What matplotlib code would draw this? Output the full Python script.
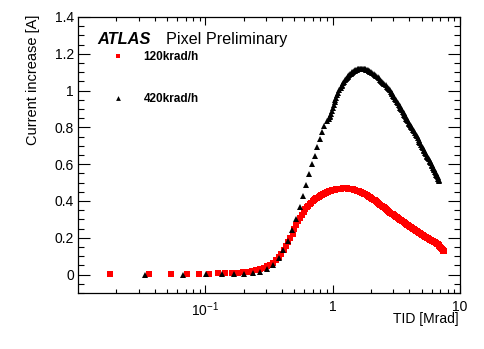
import matplotlib
matplotlib.use("Agg")
import matplotlib.pyplot as plt
from matplotlib.ticker import FixedLocator, MultipleLocator, LogLocator, NullFormatter, FixedFormatter

plt.rcParams['font.family'] = ['Liberation Sans', 'DejaVu Sans']
plt.rcParams['mathtext.fontset'] = 'custom'
plt.rcParams['mathtext.rm'] = 'Liberation Sans'

# ---------------- data ----------------
tid_120 = [0.0179, 0.0358, 0.0537, 0.0716, 0.0895, 0.107, 0.125, 0.143, 0.161, 0.179,
           0.197, 0.215, 0.233, 0.251, 0.269, 0.287, 0.305, 0.322, 0.340, 0.358,
           0.376, 0.394, 0.412, 0.430, 0.448, 0.466, 0.484, 0.501, 0.519, 0.537,
           0.555, 0.573, 0.591, 0.609, 0.627, 0.645, 0.66, 0.68, 0.70, 0.715,
           0.73, 0.745, 0.76, 0.775, 0.79, 0.805, 0.82, 0.835, 0.85, 0.865,
           0.88, 0.895, 0.91, 0.925, 0.94, 0.955, 0.97, 0.985, 1.0, 1.02,
           1.04, 1.06, 1.08, 1.10, 1.12, 1.145, 1.17, 1.195, 1.22, 1.245,
           1.27, 1.295, 1.32, 1.345, 1.37, 1.395, 1.42, 1.45, 1.48, 1.51,
           1.54, 1.57, 1.6, 1.635, 1.67, 1.705, 1.74, 1.775, 1.81, 1.85,
           1.89, 1.93, 1.97, 2.01, 2.05, 2.095, 2.14, 2.185, 2.23, 2.275,
           2.32, 2.37, 2.42, 2.47, 2.52, 2.57, 2.62, 2.675, 2.73, 2.785,
           2.84, 2.9, 2.96, 3.02, 3.08, 3.14, 3.2, 3.265, 3.33, 3.395,
           3.46, 3.53, 3.6, 3.67, 3.74, 3.815, 3.89, 3.965, 4.04, 4.12,
           4.2, 4.28, 4.36, 4.445, 4.53, 4.615, 4.7, 4.79, 4.88, 4.97,
           5.06, 5.155, 5.25, 5.345, 5.44, 5.54, 5.64, 5.74, 5.84, 5.945,
           6.05, 6.155, 6.26, 6.365, 6.47, 6.575, 6.68, 6.79, 6.9, 7.0,
           7.1, 7.2, 7.3, 7.4, 7.5]
cur_120 = [0.004, 0.004, 0.002, 0.004, 0.005, 0.005, 0.007, 0.008, 0.009, 0.011,
           0.013, 0.016, 0.019, 0.023, 0.029, 0.036, 0.045, 0.054, 0.064, 0.077,
           0.093, 0.111, 0.132, 0.154, 0.177, 0.200, 0.223, 0.246, 0.268, 0.290,
           0.309, 0.326, 0.341, 0.354, 0.365, 0.375, 0.383, 0.391, 0.400, 0.405,
           0.410, 0.415, 0.419, 0.423, 0.427, 0.431, 0.434, 0.437, 0.440, 0.443,
           0.445, 0.447, 0.449, 0.451, 0.453, 0.455, 0.456, 0.458, 0.459, 0.461,
           0.462, 0.463, 0.464, 0.465, 0.466, 0.467, 0.467, 0.468, 0.468, 0.468,
           0.468, 0.468, 0.467, 0.467, 0.466, 0.465, 0.464, 0.463, 0.461, 0.459,
           0.457, 0.455, 0.453, 0.451, 0.448, 0.445, 0.442, 0.439, 0.436, 0.432,
           0.428, 0.424, 0.420, 0.416, 0.412, 0.407, 0.403, 0.398, 0.394, 0.389,
           0.385, 0.380, 0.375, 0.370, 0.365, 0.360, 0.356, 0.351, 0.346, 0.341,
           0.337, 0.332, 0.328, 0.324, 0.320, 0.315, 0.311, 0.307, 0.303, 0.299,
           0.295, 0.290, 0.286, 0.281, 0.277, 0.272, 0.268, 0.264, 0.261, 0.257,
           0.254, 0.250, 0.247, 0.243, 0.239, 0.235, 0.232, 0.228, 0.224, 0.221,
           0.217, 0.214, 0.210, 0.207, 0.203, 0.200, 0.197, 0.194, 0.190, 0.187,
           0.184, 0.181, 0.178, 0.175, 0.172, 0.169, 0.165, 0.160, 0.155, 0.150,
           0.145, 0.140, 0.135, 0.130, 0.126]

tid_420 = [0.0336, 0.0672, 0.101, 0.135, 0.168, 0.203, 0.237, 0.271, 0.306, 0.341,
           0.376, 0.409, 0.443, 0.478, 0.514, 0.55, 0.581, 0.616, 0.654, 0.684,
           0.721, 0.759, 0.79, 0.824, 0.861, 0.897, 0.93, 0.945, 0.96, 0.975,
           0.99, 1.005, 1.02, 1.035, 1.05, 1.07, 1.09, 1.11, 1.13, 1.156,
           1.175, 1.19, 1.21, 1.23, 1.25, 1.27, 1.29, 1.31, 1.33, 1.35,
           1.37, 1.39, 1.41, 1.43, 1.45, 1.47, 1.49, 1.51, 1.53, 1.55,
           1.57, 1.59, 1.615, 1.64, 1.66, 1.68, 1.705, 1.73, 1.755, 1.78,
           1.805, 1.83, 1.86, 1.89, 1.915, 1.94, 1.97, 2.0, 2.05, 2.1,
           2.15, 2.2, 2.25, 2.3, 2.35, 2.4, 2.45, 2.5, 2.55, 2.6,
           2.65, 2.7, 2.75, 2.8, 2.85, 2.9, 2.95, 3.0, 3.05, 3.1,
           3.15, 3.2, 3.25, 3.3, 3.35, 3.4, 3.45, 3.5, 3.55, 3.6,
           3.65, 3.7, 3.75, 3.8, 3.85, 3.9, 3.95, 4.0, 4.05, 4.1,
           4.15, 4.2, 4.275, 4.35, 4.425, 4.5, 4.575, 4.65, 4.725, 4.8,
           4.875, 4.95, 5.025, 5.1, 5.175, 5.25, 5.325, 5.4, 5.475, 5.55,
           5.625, 5.7, 5.775, 5.85, 5.925, 6.0, 6.075, 6.15, 6.225, 6.3,
           6.375, 6.45, 6.525, 6.6, 6.675, 6.75, 6.815, 6.88]
cur_420 = [0.0, 0.0, 0.001, 0.002, 0.003, 0.004, 0.007, 0.016, 0.033, 0.054,
           0.090, 0.134, 0.184, 0.243, 0.300, 0.365, 0.429, 0.487, 0.546, 0.600,
           0.647, 0.693, 0.738, 0.776, 0.808, 0.836, 0.848, 0.855, 0.862, 0.875,
           0.890, 0.905, 0.922, 0.938, 0.950, 0.962, 0.976, 0.989, 1.001, 1.016,
           1.026, 1.033, 1.041, 1.049, 1.056, 1.062, 1.068, 1.073, 1.078, 1.083,
           1.088, 1.092, 1.096, 1.099, 1.102, 1.105, 1.108, 1.110, 1.112, 1.114,
           1.116, 1.117, 1.118, 1.119, 1.120, 1.120, 1.120, 1.119, 1.118, 1.117,
           1.116, 1.114, 1.112, 1.110, 1.108, 1.106, 1.103, 1.101, 1.096, 1.091,
           1.085, 1.079, 1.073, 1.066, 1.060, 1.054, 1.047, 1.041, 1.035, 1.028,
           1.021, 1.014, 1.008, 1.002, 0.995, 0.988, 0.980, 0.973, 0.965, 0.957,
           0.949, 0.940, 0.932, 0.924, 0.916, 0.908, 0.900, 0.893, 0.885, 0.878,
           0.870, 0.863, 0.855, 0.848, 0.840, 0.833, 0.826, 0.819, 0.812, 0.806,
           0.800, 0.795, 0.786, 0.778, 0.769, 0.760, 0.751, 0.742, 0.732, 0.723,
           0.713, 0.704, 0.695, 0.686, 0.678, 0.670, 0.662, 0.655, 0.647, 0.640,
           0.633, 0.626, 0.619, 0.612, 0.604, 0.597, 0.590, 0.582, 0.575, 0.567,
           0.560, 0.552, 0.544, 0.536, 0.528, 0.520, 0.513, 0.506]

series_labels = ["120krad/h", "420krad/h"]
y_ticks = [0, 0.2, 0.4, 0.6, 0.8, 1.0, 1.2, 1.4]
y_tick_labels = ["0", "0.2", "0.4", "0.6", "0.8", "1", "1.2", "1.4"]
x_ticks = [0.1, 1, 10]
x_tick_labels = [r"$10^{-1}$", "1", "10"]

# ---------------- figure ----------------
W, H = 485, 349
fig = plt.figure(figsize=(W / 100, H / 100), dpi=100)
ax = fig.add_axes([78 / W, 1 - 293 / H, (460 - 78) / W, (293 - 17) / H])

ax.plot(tid_120, cur_120, ls='none', marker='s', ms=4.1, mew=0, color='#ff0000',
        label=series_labels[0])
ax.plot(tid_420, cur_420, ls='none', marker='^', ms=4.6, mew=0, color='black',
        label=series_labels[1])

ax.set_xscale('log')
ax.set_xlim(0.01, 10)
ax.set_ylim(-0.1, 1.4)

ax.xaxis.set_major_locator(FixedLocator(x_ticks))
ax.xaxis.set_major_formatter(FixedFormatter(x_tick_labels))
ax.xaxis.set_minor_locator(LogLocator(base=10, subs=(2, 3, 4, 5, 6, 7, 8, 9)))
ax.xaxis.set_minor_formatter(NullFormatter())
ax.yaxis.set_major_locator(FixedLocator(y_ticks))
ax.yaxis.set_major_formatter(FixedFormatter(y_tick_labels))
ax.yaxis.set_minor_locator(MultipleLocator(0.05))

for sp in ax.spines.values():
    sp.set_linewidth(0.9)

ax.tick_params(axis='both', which='both', direction='in', top=True, right=True,
               width=0.8, labelsize=10, colors='black')
ax.tick_params(axis='y', which='major', length=8.3, pad=3)
ax.tick_params(axis='y', which='minor', length=4.1)
ax.tick_params(axis='x', which='major', length=6, pad=5)
ax.tick_params(axis='x', which='minor', length=3)

fig.text(33 / W, 1 - 15 / H, "Current increase [A]", rotation=90, ha='center', va='top',
         fontsize=10.5)
fig.text(459 / W, 1 - 319.5 / H, "TID [Mrad]", ha='right', va='center', fontsize=10)

fig.text(97 / W, 1 - 44 / H, "ATLAS", fontsize=11.8, fontweight='bold', fontstyle='italic',
         ha='left', va='baseline')
fig.text(166 / W, 1 - 44 / H, "Pixel Preliminary", fontsize=11.6, ha='left', va='baseline')

leg = ax.legend(loc='upper left', bbox_to_anchor=(113 / W, 1 - 51 / H),
                bbox_transform=fig.transFigure, frameon=False,
                prop={'weight': 'bold', 'size': 8.5}, handlelength=0.9,
                handletextpad=1.7, labelspacing=2.55, borderpad=0, borderaxespad=0,
                markerscale=0.75)

fig.savefig("out.png", dpi=100)
